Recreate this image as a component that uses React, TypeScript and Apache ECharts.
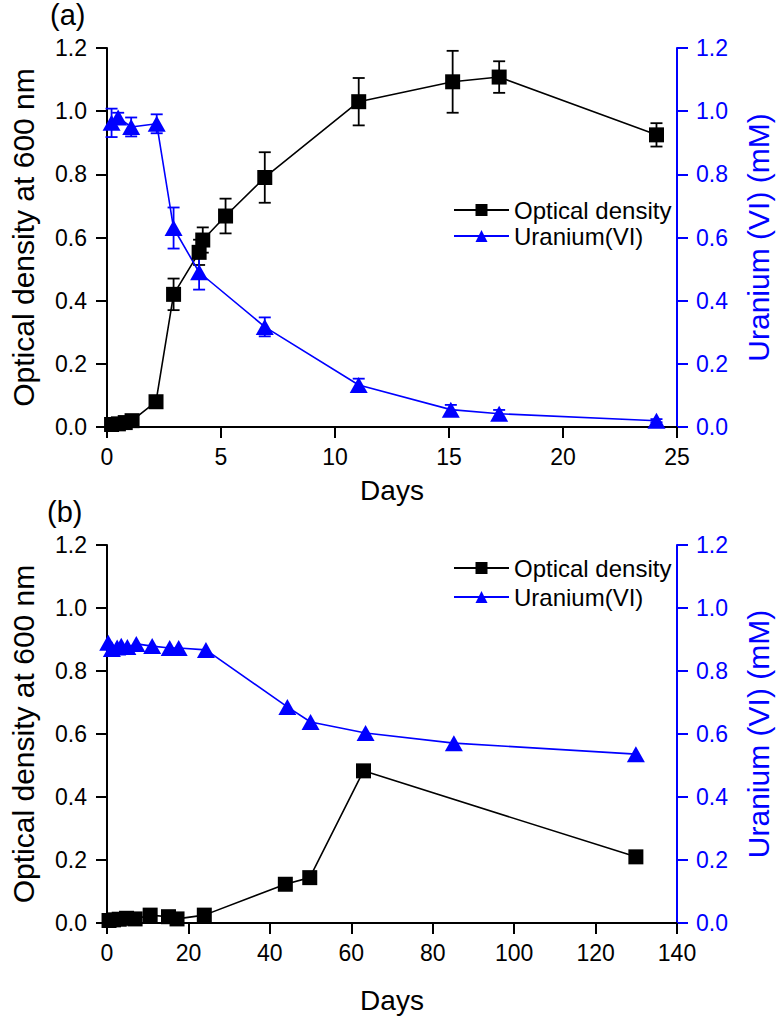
import React, { useEffect, useRef } from "react";
import * as echarts from "echarts";

// Panel (a)
const daysA_OD = [0.2, 0.5, 0.8, 1.1, 2.15, 2.92, 4.04, 4.2, 5.2, 6.92, 11.04, 15.16, 17.2, 24.1];
const odA = [0.008, 0.01, 0.014, 0.02, 0.08, 0.42, 0.553, 0.592, 0.668, 0.79, 1.03, 1.093, 1.108, 0.925];
const odA_err = [0.003, 0.003, 0.003, 0.004, 0.01, 0.05, 0.04, 0.04, 0.055, 0.08, 0.075, 0.098, 0.05, 0.037];
const daysA_U = [0.2, 0.49, 1.06, 2.18, 2.92, 4.04, 6.92, 11.04, 15.08, 17.2, 24.1];
const uA = [0.963, 0.98, 0.95, 0.96, 0.63, 0.49, 0.317, 0.133, 0.055, 0.042, 0.02];
const uA_err = [0.045, 0.015, 0.03, 0.03, 0.065, 0.055, 0.03, 0.02, 0.015, 0.012, 0.005];

// Panel (b)
const daysB_OD = [0.5, 1.6, 3, 4.8, 6.9, 10.6, 15.1, 17.2, 23.9, 43.8, 49.8, 63, 129.9];
const odB = [0.008, 0.01, 0.012, 0.015, 0.013, 0.025, 0.02, 0.013, 0.025, 0.123, 0.144, 0.483, 0.21];
const daysB_U = [0.3, 1.2, 2.5, 3.5, 5, 7.2, 11.1, 15.4, 17.6, 24.3, 44.3, 50, 63.5, 85.2, 129.9];
const uB = [0.89, 0.87, 0.875, 0.88, 0.876, 0.886, 0.879, 0.873, 0.873, 0.867, 0.686, 0.638, 0.603, 0.571, 0.536];

const xTicksA = { min: 0, max: 25, interval: 5 };
const xTicksB = { min: 0, max: 140, interval: 20 };
const yTicks = { min: 0, max: 1.2, interval: 0.2 };

const BLUE = "#0000ff";
const FONT = "Liberation Sans, Arial, sans-serif";

const pairs = (xs: number[], ys: number[]) => xs.map((x, i) => [x, ys[i]]);
const errs = (xs: number[], ys: number[], es: number[]) => xs.map((x, i) => [x, ys[i] - es[i], ys[i] + es[i]]);

const errRender = (color: string) => (params: any, api: any) => {
  const lo = api.coord([api.value(0), api.value(1)]);
  const hi = api.coord([api.value(0), api.value(2)]);
  const w = 6;
  const style = { stroke: color, lineWidth: 1.8 };
  return {
    type: "group",
    children: [
      { type: "line", shape: { x1: lo[0], y1: lo[1], x2: hi[0], y2: hi[1] }, style },
      { type: "line", shape: { x1: lo[0] - w, y1: lo[1], x2: lo[0] + w, y2: lo[1] }, style },
      { type: "line", shape: { x1: hi[0] - w, y1: hi[1], x2: hi[0] + w, y2: hi[1] }, style },
    ],
  };
};

export default function App() {
  const ref = useRef<HTMLDivElement>(null);
  useEffect(() => {
    document.body.style.margin = "0";
    const chart = echarts.init(ref.current!, null, { renderer: "svg" });

    const xAxisBase = (idx: number, t: any, gap: number) => ({
      type: "value",
      gridIndex: idx,
      min: t.min,
      max: t.max,
      interval: t.interval,
      name: "Days",
      nameLocation: "middle",
      nameGap: gap,
      nameTextStyle: { fontSize: 28, color: "#000", fontFamily: FONT },
      axisLine: { onZero: false, lineStyle: { color: "#000", width: 2 } },
      axisTick: { inside: false, length: 11, lineStyle: { color: "#000", width: 2 } },
      axisLabel: { fontSize: 23, color: "#000", fontFamily: FONT, margin: 18 },
      splitLine: { show: false },
    });
    const yLeft = (idx: number) => ({
      type: "value",
      gridIndex: idx,
      position: "left",
      ...yTicks,
      name: "Optical density at 600 nm",
      nameLocation: "middle",
      nameGap: 69,
      nameTextStyle: { fontSize: 30, color: "#000", fontFamily: FONT },
      axisLine: { show: true, onZero: false, lineStyle: { color: "#000", width: 2 } },
      axisTick: { show: true, inside: false, length: 11, lineStyle: { color: "#000", width: 2 } },
      axisLabel: { fontSize: 23, color: "#000", fontFamily: FONT, margin: 20, formatter: (v: number) => v.toFixed(1) },
      splitLine: { show: false },
    });
    const yRight = (idx: number) => ({
      type: "value",
      gridIndex: idx,
      position: "right",
      ...yTicks,
      name: "Uranium (VI) (mM)",
      nameLocation: "middle",
      nameGap: 66,
      nameRotate: 90,
      nameTextStyle: { fontSize: 30, color: BLUE, fontFamily: FONT },
      axisLine: { show: true, onZero: false, lineStyle: { color: BLUE, width: 2 } },
      axisTick: { show: true, inside: false, length: 11, lineStyle: { color: BLUE, width: 2 } },
      axisLabel: { fontSize: 23, color: BLUE, fontFamily: FONT, margin: 19, formatter: (v: number) => v.toFixed(1) },
      splitLine: { show: false },
    });

    const odSeries = (name: string, xi: number, yi: number, data: number[][]) => ({
      type: "line",
      name,
      xAxisIndex: xi,
      yAxisIndex: yi,
      data,
      symbol: "rect",
      symbolSize: 15,
      itemStyle: { color: "#000" },
      lineStyle: { color: "#000", width: 1.6 },
      z: 3,
    });
    const uSeries = (name: string, xi: number, yi: number, data: number[][]) => ({
      type: "line",
      name,
      xAxisIndex: xi,
      yAxisIndex: yi,
      data,
      symbol: "triangle",
      symbolSize: [18, 16],
      itemStyle: { color: BLUE },
      lineStyle: { color: BLUE, width: 1.6 },
      z: 3,
    });

    const legendBase = (top: number, gap: number) => ({
      orient: "vertical",
      left: 448,
      top,
      itemWidth: 55,
      itemHeight: 15,
      itemGap: gap,
      textStyle: { fontSize: 24, color: "#000", fontFamily: FONT },
      data: ["Optical density", "Uranium(VI)"],
      selectedMode: false,
    });

    chart.setOption({
      animation: false,
      backgroundColor: "#fff",
      grid: [
        { left: 102, top: 48, width: 582, height: 379 },
        { left: 102, top: 545, width: 582, height: 378 },
      ],
      xAxis: [xAxisBase(0, xTicksA, 49), xAxisBase(1, xTicksB, 63)],
      yAxis: [yLeft(0), yRight(0), yLeft(1), yRight(1)],
      legend: [legendBase(193, 2), legendBase(551, 5)],
      graphic: [
        { type: "text", left: 50, top: 0, style: { text: "(a)", fontSize: 29, fill: "#000", fontFamily: FONT } },
        { type: "text", left: 47, top: 497, style: { text: "(b)", fontSize: 29, fill: "#000", fontFamily: FONT } },
      ],
      series: [
        {
          type: "custom", xAxisIndex: 0, yAxisIndex: 0, z: 2,
          renderItem: errRender("#000"), data: errs(daysA_OD, odA, odA_err),
        },
        {
          type: "custom", xAxisIndex: 0, yAxisIndex: 1, z: 2,
          renderItem: errRender(BLUE), data: errs(daysA_U, uA, uA_err),
        },
        odSeries("Optical density", 0, 0, pairs(daysA_OD, odA)),
        uSeries("Uranium(VI)", 0, 1, pairs(daysA_U, uA)),
        odSeries("Optical density", 1, 2, pairs(daysB_OD, odB)),
        uSeries("Uranium(VI)", 1, 3, pairs(daysB_U, uB)),
      ],
    });
    return () => chart.dispose();
  }, []);
  return <div ref={ref} style={{ width: 781, height: 1018 }} />;
}
